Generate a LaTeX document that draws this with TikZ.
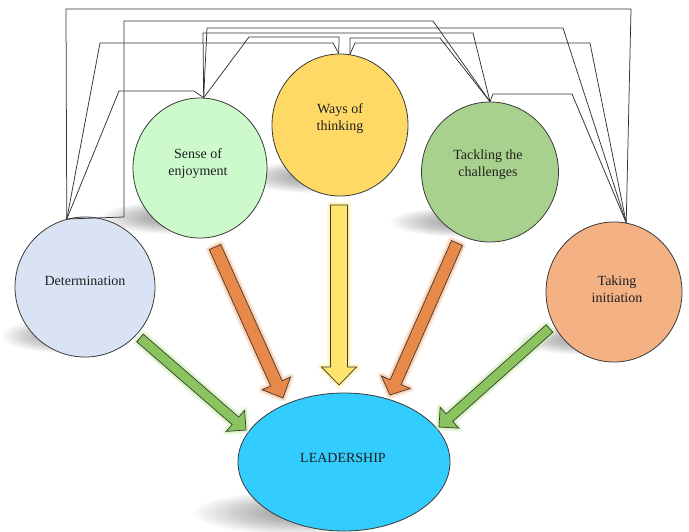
\documentclass[tikz,border=0pt]{standalone}
\usepackage{fontspec}
\setmainfont{Liberation Serif}
\usetikzlibrary{shapes.geometric,calc}
\definecolor{cdet}{HTML}{DAE3F3}
\definecolor{csense}{HTML}{CCFACC}
\definecolor{cways}{HTML}{FFD966}
\definecolor{ctack}{HTML}{A9D18E}
\definecolor{ctake}{HTML}{F4B183}
\definecolor{clead}{HTML}{33CCFF}
\definecolor{edgec}{HTML}{3A3A3A}
\definecolor{aorange}{HTML}{E8894A}
\definecolor{gorange}{HTML}{F7C39B}
\definecolor{ayellow}{HTML}{FFE46E}
\definecolor{gyellow}{HTML}{FFF09A}
\definecolor{agreen}{HTML}{8BC45E}
\definecolor{ggreen}{HTML}{CDEFB0}
\newcommand\softshadow[4]{%
  \foreach \i in {0,...,17}{%
    \fill[black,opacity=0.024] (#1,#2) ellipse [x radius={(1-\i*0.05)*#3pt}, y radius={(1-\i*0.05)*#4pt}];
  }%
}
\newcommand\blockarrow[7]{%
  \coordinate (hb) at ($(#2)!#5!(#1)$);
  \path[fill=#6, draw=edgec, line width=0.7pt, line join=miter,
        preaction={draw=#7, line width=7pt, opacity=0.35, line join=round},
        preaction={draw=#7, line width=4pt, opacity=0.6, line join=round}]
    ($(#1)!#3!90:(#2)$) -- ($(hb)!#3!90:(#2)$) -- ($(hb)!#4!90:(#2)$) -- (#2)
    -- ($(hb)!#4!-90:(#2)$) -- ($(hb)!#3!-90:(#2)$) -- ($(#1)!#3!-90:(#2)$) -- cycle;
}
\tikzset{
  ell/.style={ellipse, draw=edgec, line width=0.8pt, inner sep=0pt},
  lbl/.style={font=\fontsize{14pt}{17pt}\selectfont, text=black!88, align=center, inner sep=0pt},
  conn/.style={draw=black!80, line width=0.75pt, line join=miter}
}
\begin{document}
\begin{tikzpicture}[x=1pt,y=-1pt]
\useasboundingbox (0,0) rectangle (689,531);
\fill[white] (0,0) rectangle (689,531);
% shadows
\softshadow{64}{336}{62}{17}
\softshadow{172}{218}{72}{16}
\softshadow{315}{177}{72}{16}
\softshadow{463}{222}{72}{15}
\softshadow{588}{340}{70}{15}
\softshadow{302}{513}{108}{22}
% ellipses
\node[ell, fill=cdet,   minimum width=140pt, minimum height=140pt] (det)   at (85,287)  {};
\node[ell, fill=csense, minimum width=134pt, minimum height=140pt] (sense) at (200,168) {};
\node[ell, fill=cways,  minimum width=136pt, minimum height=142pt] (ways)  at (340,125) {};
\node[ell, fill=ctack,  minimum width=137pt, minimum height=140pt] (tack)  at (490,172) {};
\node[ell, fill=ctake,  minimum width=136pt, minimum height=140pt] (take)  at (614,292) {};
\node[ell, fill=clead,  minimum width=212pt, minimum height=138pt] (lead)  at (344,462) {};
% labels
\node[lbl] (dett)   at (85,281)  {Determination};
\node[lbl] (senset) at (198,164) {Sense of\\enjoyment};
\node[lbl] (wayst)  at (340,119) {Ways of\\thinking};
\node[lbl] (tackt)  at (488,165) {Tackling the\\challenges};
\node[lbl] (taket)  at (617,289) {Taking\\initiation};
\node[lbl] (leadt)  at (343,458) {LEADERSHIP};
% connectors
\draw[conn] (det.105) -- (66,9) -- (631,9) -- (take.80);
\draw[conn] (det.105) -- (124,217) -- (124,21) -- (433,21) -- (tack.north);
\draw[conn] (det.105) -- (100,43) -- (333,43) -- (ways.91);
\draw[conn] (det.105) -- (119,91) -- (194,91) -- (sense.87);
\draw[conn] (sense.87) -- (207,28) -- (563,28) -- (take.80);
\draw[conn] (sense.87) -- (203,33) -- (473,33) -- (tack.north);
\draw[conn] (sense.87) -- (249,37) -- (339,37) -- (ways.91);
\draw[conn] (ways.82) -- (350,38) -- (440,38) -- (tack.north);
\draw[conn] (ways.82) -- (355,43) -- (590,43) -- (take.80);
\draw[conn] (tack.north) -- (493,94) -- (572,94) -- (take.80);
% block arrows
\coordinate (a1s) at (215,247);   \coordinate (a1e) at (283,398);
\coordinate (a2s) at (339,205);   \coordinate (a2e) at (339,385);
\coordinate (a3s) at (457,243);   \coordinate (a3e) at (390,395);
\coordinate (a4s) at (140,338);   \coordinate (a4e) at (246,430);
\coordinate (a5s) at (549.5,328.5); \coordinate (a5e) at (439,427);
\blockarrow{a1s}{a1e}{6.3pt}{15.4pt}{16pt}{aorange}{gorange}
\blockarrow{a2s}{a2e}{8.5pt}{17.5pt}{18pt}{ayellow}{gyellow}
\blockarrow{a3s}{a3e}{6pt}{15.7pt}{14pt}{aorange}{gorange}
\blockarrow{a4s}{a4e}{5pt}{14pt}{14pt}{agreen}{ggreen}
\blockarrow{a5s}{a5e}{5pt}{14pt}{14pt}{agreen}{ggreen}
\end{tikzpicture}
\end{document}
